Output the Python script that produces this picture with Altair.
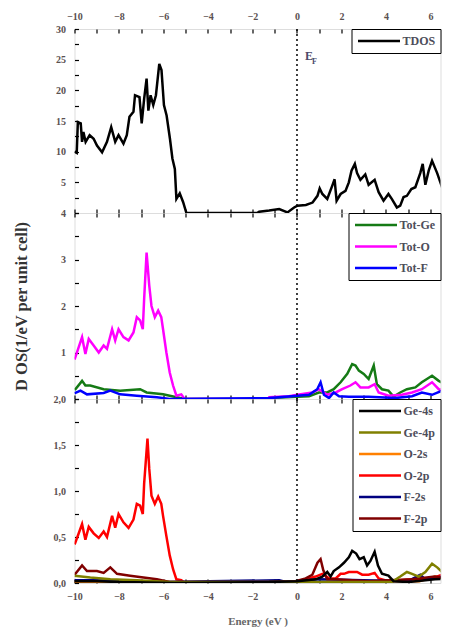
import altair as alt
import pandas as pd

# ---------------- data ----------------
tdos_e = [-10, -9.9, -9.85, -9.72, -9.66, -9.6, -9.5, -9.32, -9.14, -8.99, -8.76, -8.54, -8.35, -8.17,
          -8.02, -7.8, -7.65, -7.53, -7.35, -7.28, -7.08, -6.98, -6.87, -6.76, -6.68, -6.58, -6.46,
          -6.34, -6.19, -6.09, -5.98, -5.86, -5.71, -5.6, -5.49, -5.42, -5.27, -5.12, -4.97, -1.8,
          -1.7, -1.25, -0.8, -0.43, -0.13, 0.02, 0.4, 0.7, 0.92, 1.02, 1.14, 1.36, 1.59, 1.69, 1.78,
          1.96, 2.18, 2.33, 2.45, 2.6, 2.7, 2.85, 3.07, 3.22, 3.49, 3.67, 3.89, 4.11, 4.26, 4.49,
          4.64, 4.79, 4.94, 5.14, 5.32, 5.54, 5.65, 5.77, 5.92, 6.07, 6.3, 6.52, 6.74]
tdos_v = [10.0, 9.8, 14.8, 14.6, 11.6, 13.2, 11.6, 12.7, 12.1, 11.0, 9.9, 11.6, 14.0, 11.6,
          12.7, 11.3, 12.7, 15.7, 16.5, 19.2, 18.9, 14.6, 18.6, 21.9, 16.7, 19.2, 17.6,
          19.2, 24.3, 23.3, 17.6, 15.9, 12.1, 8.9, 7.2, 2.3, 3.2, 1.8, 0.0, 0.0,
          0.2, 0.4, 0.65, 0.1, 0.9, 1.2, 1.3, 1.7, 2.8, 4.0, 3.1, 2.3, 4.5, 5.5, 2.0,
          3.1, 3.6, 5.0, 6.9, 8.0, 6.5, 5.4, 6.3, 4.6, 5.4, 3.4, 2.0, 3.1, 2.3, 0.9,
          1.2, 2.6, 2.8, 3.9, 4.2, 6.5, 8.0, 4.6, 6.9, 8.5, 6.5, 4.2, 7.1]

totge_e = [-10, -9.96, -9.66, -9.51, -9.29, -8.69, -7.95, -7.05, -6.76, -6.02, -5.72, -5.05, -1.3,
           -1.25, 0.02, 0.54, 0.98, 1.36, 1.65, 1.96, 2.26, 2.48, 2.63, 2.78, 3.0, 3.22, 3.45, 3.59,
           3.82, 4.11, 4.34, 4.64, 4.94, 5.32, 5.61, 6.07, 6.37, 6.74]
totge_v = [0.2, 0.21, 0.39, 0.29, 0.29, 0.21, 0.18, 0.21, 0.14, 0.1, 0.07, 0.0, 0.0,
           0.02, 0.05, 0.06, 0.14, 0.14, 0.21, 0.36, 0.54, 0.75, 0.72, 0.61, 0.54, 0.43, 0.72, 0.32,
           0.21, 0.18, 0.05, 0.14, 0.21, 0.25, 0.36, 0.5, 0.39, 0.29]

toto_e = [-10, -9.96, -9.66, -9.51, -9.36, -9.14, -8.91, -8.69, -8.54, -8.31, -8.17, -8.02, -7.8,
          -7.57, -7.35, -7.2, -7.05, -6.93, -6.87, -6.76, -6.64, -6.54, -6.39, -6.24, -6.1, -6.02,
          -5.87, -5.72, -5.57, -5.42, -5.2, -5.05, -1.3, -1.25, -0.36, 0.02, 0.69, 0.98, 1.36, 1.74,
          2.03, 2.4, 2.63, 2.85, 3.22, 3.49, 3.67, 4.11, 4.71, 5.17, 5.61, 6.07, 6.37, 6.74]
toto_v = [0.85, 0.9, 1.33, 0.97, 1.29, 1.15, 1.0, 1.15, 1.08, 1.5, 1.26, 1.5, 1.33,
          1.26, 1.43, 1.76, 1.69, 1.5, 2.15, 3.15, 2.44, 2.0, 1.76, 1.9, 1.76, 1.5,
          1.0, 0.57, 0.29, 0.07, 0.1, 0.0, 0.0, 0.04, 0.06, 0.09, 0.14, 0.21, 0.09, 0.14,
          0.21, 0.29, 0.36, 0.25, 0.25, 0.32, 0.14, 0.07, 0.09, 0.14, 0.21, 0.36, 0.21, 0.18]

totf_e = [-10, -9.96, -9.73, -9.44, -8.69, -8.39, -7.95, -7.2, -6.3, -5.72, -1.25, 0.02, 0.54, 0.91,
          1.06, 1.21, 1.44, 1.65, 1.89, 2.33, 3.22, 4.41, 5.17, 5.61, 6.07, 6.52]
totf_v = [0.12, 0.13, 0.18, 0.1, 0.13, 0.18, 0.1, 0.07, 0.04, 0.0, 0.02, 0.07, 0.09, 0.21,
          0.36, 0.09, 0.02, 0.14, 0.06, 0.05, 0.05, 0.02, 0.06, 0.14, 0.09, 0.18]

ge4s_e = [-10, -9.0, -8.0, -5.5, -1.25, 0.02, 0.84, 1.14, 1.36, 1.51, 1.65, 1.89, 2.11, 2.33, 2.48,
          2.66, 2.81, 3.0, 3.15, 3.3, 3.49, 3.64, 3.82, 4.11, 4.34, 5.0, 6.2, 6.8]
ge4s_v = [0.02, 0.02, 0.01, 0.0, 0.01, 0.02, 0.04, 0.07, 0.12, 0.07, 0.13, 0.17, 0.22, 0.28, 0.35,
          0.32, 0.26, 0.28, 0.19, 0.24, 0.34, 0.19, 0.1, 0.08, 0.02, 0.01, 0.04, 0.05]

ge4p_e = [-10, -9.29, -8.39, -7.2, -5.72, 4.26, 4.64, 4.94, 5.17, 5.47, 5.77, 6.07, 6.3, 6.52, 6.82]
ge4p_v = [0.08, 0.06, 0.04, 0.03, 0.01, 0.01, 0.07, 0.12, 0.1, 0.07, 0.12, 0.21, 0.17, 0.12, 0.17]

o2s_e = [-10, -6.0, 0.0, 2.5, 5.5, 6.2, 6.8]
o2s_v = [0.01, 0.0, 0.0, 0.02, 0.02, 0.07, 0.04]

o2p_e = [-10, -9.96, -9.66, -9.51, -9.36, -9.14, -8.91, -8.69, -8.54, -8.31, -8.17, -8.02, -7.8,
         -7.57, -7.35, -7.2, -7.05, -6.93, -6.87, -6.72, -6.64, -6.54, -6.39, -6.24, -6.1, -6.02,
         -5.87, -5.72, -5.57, -5.42, -5.2, -5.05, 0.0, 0.02, 0.84, 1.14, 1.44, 1.74, 1.96, 2.11,
         2.33, 2.7, 2.93, 3.22, 3.49, 3.67, 4.11, 5.17, 6.07, 6.52, 6.8]
o2p_v = [0.42, 0.44, 0.64, 0.47, 0.61, 0.54, 0.49, 0.56, 0.5, 0.73, 0.6, 0.75, 0.66,
         0.6, 0.69, 0.86, 0.84, 0.75, 1.08, 1.57, 1.24, 0.95, 0.86, 0.94, 0.86, 0.73,
         0.51, 0.3, 0.15, 0.04, 0.03, 0.0, 0.0, 0.02, 0.07, 0.1, 0.05, 0.05, 0.1, 0.1,
         0.12, 0.12, 0.09, 0.09, 0.11, 0.05, 0.02, 0.04, 0.05, 0.09, 0.05]

f2s_e = [-10, -9.0, -8.0, -6.0, -0.8, -0.5, 0.98, 5.0, 5.54, 5.77, 6.52, 6.8]
f2s_v = [0.03, 0.03, 0.02, 0.01, 0.03, 0.01, 0.04, 0.02, 0.09, 0.04, 0.07, 0.05]

f2p_e = [-10, -9.96, -9.66, -9.44, -8.99, -8.69, -8.39, -8.09, -7.5, -6.9, -6.3, -5.72, -1.25,
         -0.06, 0.39, 0.69, 0.92, 1.06, 1.18, 1.36, 1.74, 3.22, 5.17, 6.2, 6.8]
f2p_v = [0.1, 0.1, 0.19, 0.13, 0.13, 0.11, 0.17, 0.1, 0.08, 0.06, 0.04, 0.01, 0.01,
         0.02, 0.05, 0.09, 0.22, 0.26, 0.14, 0.04, 0.04, 0.02, 0.04, 0.07, 0.05]

top_names = ["TDOS"]
top_colors = ["#000000"]
mid_names = ["Tot-Ge", "Tot-O", "Tot-F"]
mid_colors = ["#157a15", "#ff00ff", "#0000ff"]
bot_names = ["Ge-4s", "Ge-4p", "O-2s", "O-2p", "F-2s", "F-2p"]
bot_colors = ["#000000", "#808000", "#ff8000", "#ff0000", "#000080", "#800000"]

x_ticks = [-10, -9, -8, -7, -6, -5, -4, -3, -2, -1, 0, 1, 2, 3, 4, 5, 6]
top_ticks = [0, 2.5, 5, 7.5, 10, 12.5, 15, 17.5, 20, 22.5, 25, 27.5, 30]
mid_ticks = [0, 0.5, 1, 1.5, 2, 2.5, 3, 3.5, 4]
bot_ticks = [0, 0.25, 0.5, 0.75, 1.0, 1.25, 1.5, 1.75, 2.0]

# ---------------- styling ----------------
FONT = "Liberation Serif"
LAB = "#5a5050"
LEG = "#4d4d5a"
X_DOMAIN = [-10, 6.45]
W = 366
TICK = 4


def long_df(parts):
    rows = []
    for name, es, vs in parts:
        for i, (e, v) in enumerate(zip(es, vs)):
            rows.append({"s": name, "E": e, "v": v, "i": i})
    return pd.DataFrame(rows)


def x_axis(orient, labels, title=None):
    kw = dict(orient=orient, values=x_ticks, labels=labels, domain=False, grid=False,
              tickSize=TICK, offset=-TICK, tickColor="black", tickWidth=1.2,
              labelExpr="datum.value % 2 == 0 ? datum.label : ''", labelFlush=False,
              labelPadding=8, labelFont=FONT, labelFontWeight="bold",
              labelFontSize=10, labelColor=LAB, title=title)
    if not labels:
        kw.update(minExtent=0, maxExtent=0)
    if title:
        kw.update(titleFont=FONT, titleFontWeight="bold", titleFontSize=11,
                  titleColor="#666666", titlePadding=14)
    return alt.Axis(**kw)


def y_axis(values, expr, title=None):
    kw = dict(orient="left", values=values, labelExpr=expr, domain=False, grid=False,
              tickSize=TICK, offset=-TICK, tickColor="black", tickWidth=1.2,
              labelPadding=9, labelFont=FONT, labelFontWeight="bold", labelFontSize=10,
              labelColor=LAB, title=title, minExtent=30)
    if title:
        kw.update(titleFont=FONT, titleFontWeight="bold", titleFontSize=16.5,
                  titleColor="#333333", titlePadding=19)
    return alt.Axis(**kw)


def legend():
    return alt.Legend(orient="top-right", offset=0, title=None, strokeColor="black",
                      fillColor="white", padding=5, symbolType="stroke", symbolSize=1764,
                      symbolStrokeWidth=2.5, clipHeight=14, rowPadding=7.5, labelOffset=1,
                      labelFont=FONT, labelFontWeight="bold", labelFontSize=12, labelColor=LEG)


def panel(parts, names, colors, ydom, yvals, yexpr, height, top_labels, bottom_labels,
          ytitle=None, xtitle=None, extra=None):
    df = long_df(parts)
    xs = alt.Scale(domain=X_DOMAIN, nice=False, zero=False)
    lines = alt.Chart(df).mark_line(strokeWidth=2.5, clip=True).encode(
        x=alt.X("E:Q", scale=xs, axis=x_axis("bottom", bottom_labels, xtitle)),
        y=alt.Y("v:Q", scale=alt.Scale(domain=ydom, nice=False, zero=False),
                axis=y_axis(yvals, yexpr, ytitle)),
        color=alt.Color("s:N", scale=alt.Scale(domain=names, range=colors), legend=legend()),
        order="i:Q",
    )
    rule = alt.Chart(pd.DataFrame({"E": [0]})).mark_rule(
        color="black", strokeDash=[2, 3], strokeWidth=1.5).encode(
        x=alt.X("E:Q", scale=xs, axis=x_axis("top", top_labels)))
    layers = [lines, rule]
    if extra is not None:
        layers += extra
    return alt.layer(*layers).resolve_axis(x="independent").properties(width=W, height=height)


ef_df = pd.DataFrame({"E": [0]})
ef_e = alt.Chart(ef_df).mark_text(text="E", align="left", baseline="middle", dx=8,
                                  font=FONT, fontWeight="bold", fontSize=12, color="#4a4a6a").encode(
    x=alt.X("E:Q", axis=None), y=alt.value(27))
ef_f = alt.Chart(ef_df).mark_text(text="F", align="left", baseline="middle", dx=15,
                                  font=FONT, fontWeight="bold", fontSize=8, color="#4a4a6a").encode(
    x=alt.X("E:Q", axis=None), y=alt.value(33))

top = panel([("TDOS", tdos_e, tdos_v)], top_names, top_colors, [0, 30], top_ticks,
            "datum.value % 5 == 0 && datum.value > 0 ? datum.label : ''", 184, True, False,
            extra=[ef_e, ef_f])
mid = panel([("Tot-Ge", totge_e, totge_v), ("Tot-O", toto_e, toto_v), ("Tot-F", totf_e, totf_v)],
            mid_names, mid_colors, [0, 4], mid_ticks,
            "datum.value % 1 == 0 && datum.value > 0 ? format(datum.value, 'd') : ''", 186,
            False, False, ytitle="D OS(1/eV per unit cell)")
bot = panel([("O-2s", o2s_e, o2s_v), ("O-2p", o2p_e, o2p_v), ("F-2s", f2s_e, f2s_v),
             ("F-2p", f2p_e, f2p_v), ("Ge-4p", ge4p_e, ge4p_v), ("Ge-4s", ge4s_e, ge4s_v)],
            bot_names, bot_colors, [0, 2], bot_ticks,
            "datum.value % 0.5 == 0 ? replace(format(datum.value, '.1f'), '.', ',') : ''", 184,
            False, True, xtitle="Energy (eV )")

chart = alt.vconcat(top, mid, bot, spacing=0, bounds="flush").resolve_scale(
    color="independent", x="shared").properties(
    padding={"left": 4.5, "top": 2, "right": 0, "bottom": 0}
).configure_view(stroke="black", strokeWidth=1.5).configure(background="white")

chart.save("out.html", embed_options={"renderer": "svg", "actions": False})
